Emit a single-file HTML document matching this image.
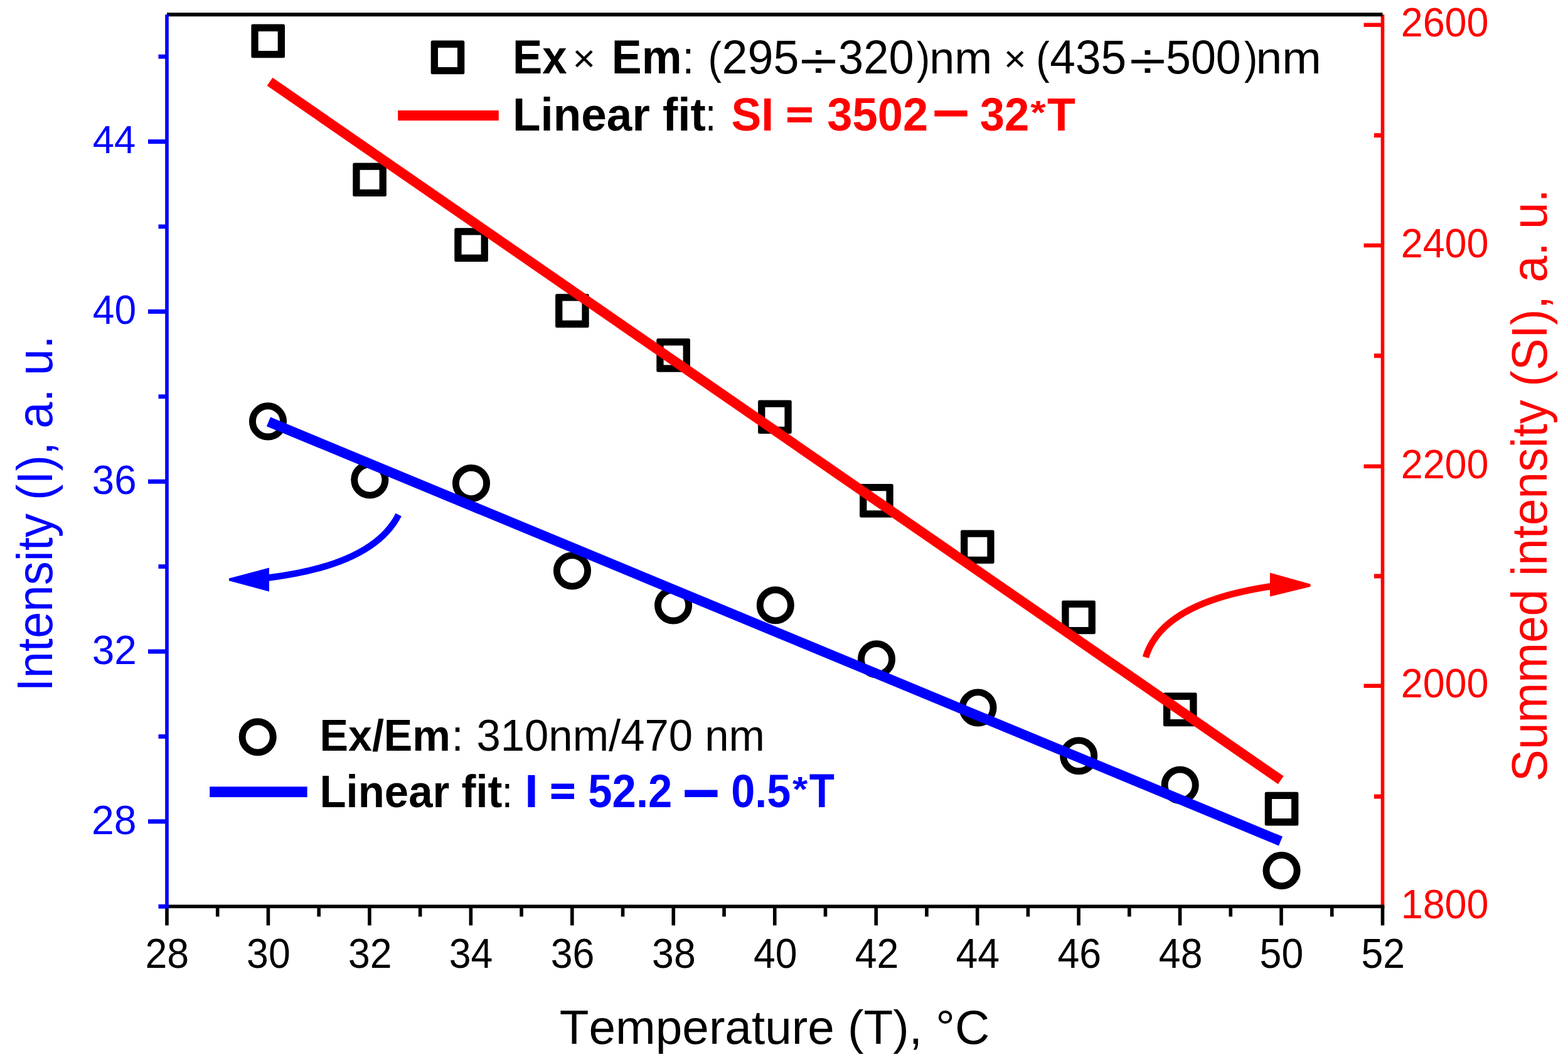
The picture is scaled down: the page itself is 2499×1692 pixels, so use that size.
<!DOCTYPE html>
<html lang="en">
<head>
<meta charset="utf-8">
<title>Intensity vs temperature</title>
<style>
html,body{margin:0;padding:0;background:#fff;}
body{width:2499px;height:1692px;}
svg{display:block;}
svg text{font-family:"Liberation Sans",sans-serif;white-space:pre;font-kerning:none;}
</style>
</head>
<body>
<svg width="2499" height="1692" viewBox="0 0 2499 1692">
<rect width="2499" height="1692" fill="#fff"/>
<g id="markers">
<path d="M402.9 38.6 h48.6 a2.5 2.5 0 0 1 2.5 2.5 v48.6 a2.5 2.5 0 0 1 -2.5 2.5 h-48.6 a2.5 2.5 0 0 1 -2.5 -2.5 v-48.6 a2.5 2.5 0 0 1 2.5 -2.5 z M411.7 49.9 h31 v31 h-31 z" fill="#000" fill-rule="evenodd"/>
<path d="M564.8 259.5 h48.6 a2.5 2.5 0 0 1 2.5 2.5 v48.6 a2.5 2.5 0 0 1 -2.5 2.5 h-48.6 a2.5 2.5 0 0 1 -2.5 -2.5 v-48.6 a2.5 2.5 0 0 1 2.5 -2.5 z M573.6 270.8 h31 v31 h-31 z" fill="#000" fill-rule="evenodd"/>
<path d="M726.8 363.3 h48.6 a2.5 2.5 0 0 1 2.5 2.5 v48.6 a2.5 2.5 0 0 1 -2.5 2.5 h-48.6 a2.5 2.5 0 0 1 -2.5 -2.5 v-48.6 a2.5 2.5 0 0 1 2.5 -2.5 z M735.6 374.6 h31 v31 h-31 z" fill="#000" fill-rule="evenodd"/>
<path d="M887.6 468.3 h48.6 a2.5 2.5 0 0 1 2.5 2.5 v48.6 a2.5 2.5 0 0 1 -2.5 2.5 h-48.6 a2.5 2.5 0 0 1 -2.5 -2.5 v-48.6 a2.5 2.5 0 0 1 2.5 -2.5 z M896.4 479.6 h31 v31 h-31 z" fill="#000" fill-rule="evenodd"/>
<path d="M1048.8 539.2 h48.6 a2.5 2.5 0 0 1 2.5 2.5 v48.6 a2.5 2.5 0 0 1 -2.5 2.5 h-48.6 a2.5 2.5 0 0 1 -2.5 -2.5 v-48.6 a2.5 2.5 0 0 1 2.5 -2.5 z M1057.6 550.5 h31 v31 h-31 z" fill="#000" fill-rule="evenodd"/>
<path d="M1210.6 637.4 h48.6 a2.5 2.5 0 0 1 2.5 2.5 v48.6 a2.5 2.5 0 0 1 -2.5 2.5 h-48.6 a2.5 2.5 0 0 1 -2.5 -2.5 v-48.6 a2.5 2.5 0 0 1 2.5 -2.5 z M1219.4 648.7 h31 v31 h-31 z" fill="#000" fill-rule="evenodd"/>
<path d="M1372.6 771 h48.6 a2.5 2.5 0 0 1 2.5 2.5 v48.6 a2.5 2.5 0 0 1 -2.5 2.5 h-48.6 a2.5 2.5 0 0 1 -2.5 -2.5 v-48.6 a2.5 2.5 0 0 1 2.5 -2.5 z M1381.4 782.3 h31 v31 h-31 z" fill="#000" fill-rule="evenodd"/>
<path d="M1533.5 844.5 h48.6 a2.5 2.5 0 0 1 2.5 2.5 v48.6 a2.5 2.5 0 0 1 -2.5 2.5 h-48.6 a2.5 2.5 0 0 1 -2.5 -2.5 v-48.6 a2.5 2.5 0 0 1 2.5 -2.5 z M1542.3 855.8 h31 v31 h-31 z" fill="#000" fill-rule="evenodd"/>
<path d="M1694.8 956.7 h48.6 a2.5 2.5 0 0 1 2.5 2.5 v48.6 a2.5 2.5 0 0 1 -2.5 2.5 h-48.6 a2.5 2.5 0 0 1 -2.5 -2.5 v-48.6 a2.5 2.5 0 0 1 2.5 -2.5 z M1703.6 968 h31 v31 h-31 z" fill="#000" fill-rule="evenodd"/>
<path d="M1856.5 1103.6 h48.6 a2.5 2.5 0 0 1 2.5 2.5 v48.6 a2.5 2.5 0 0 1 -2.5 2.5 h-48.6 a2.5 2.5 0 0 1 -2.5 -2.5 v-48.6 a2.5 2.5 0 0 1 2.5 -2.5 z M1865.3 1114.9 h31 v31 h-31 z" fill="#000" fill-rule="evenodd"/>
<path d="M2018.3 1261.8 h48.6 a2.5 2.5 0 0 1 2.5 2.5 v48.6 a2.5 2.5 0 0 1 -2.5 2.5 h-48.6 a2.5 2.5 0 0 1 -2.5 -2.5 v-48.6 a2.5 2.5 0 0 1 2.5 -2.5 z M2027.1 1273.1 h31 v31 h-31 z" fill="#000" fill-rule="evenodd"/>
<circle cx="427" cy="671.4" r="24.6" fill="none" stroke="#000" stroke-width="10.9"/>
<circle cx="589.3" cy="764.5" r="24.6" fill="none" stroke="#000" stroke-width="10.9"/>
<circle cx="751" cy="770" r="24.6" fill="none" stroke="#000" stroke-width="10.9"/>
<circle cx="912" cy="909.5" r="24.6" fill="none" stroke="#000" stroke-width="10.9"/>
<circle cx="1073.1" cy="964.4" r="24.6" fill="none" stroke="#000" stroke-width="10.9"/>
<circle cx="1235.8" cy="964.3" r="24.6" fill="none" stroke="#000" stroke-width="10.9"/>
<circle cx="1397" cy="1050.2" r="24.6" fill="none" stroke="#000" stroke-width="10.9"/>
<circle cx="1558.5" cy="1127.5" r="24.6" fill="none" stroke="#000" stroke-width="10.9"/>
<circle cx="1719.2" cy="1204.2" r="24.6" fill="none" stroke="#000" stroke-width="10.9"/>
<circle cx="1880.7" cy="1250.7" r="24.6" fill="none" stroke="#000" stroke-width="10.9"/>
<circle cx="2042.6" cy="1387" r="24.6" fill="none" stroke="#000" stroke-width="10.9"/>
</g>
<g id="fits" fill="none">
<line x1="430" y1="130.1" x2="2041.3" y2="1242.9" stroke="#ff0000" stroke-width="15.6"/>
<line x1="428" y1="671.9" x2="2041" y2="1340.1" stroke="#0000ff" stroke-width="15.8"/>
</g>
<g id="arrows">
<path d="M635.2 820.1 Q595 899.7 428 920.5" fill="none" stroke="#0000ff" stroke-width="10.5"/>
<path d="M429 904.5 L429 942.4 L365 925.2 L365 921.4 Z" fill="#0000ff"/>
<path d="M1825.9 1047.2 Q1852.1 960.1 2025 934.3" fill="none" stroke="#ff0000" stroke-width="10.5"/>
<path d="M2024 912.4 L2024 950.5 L2088.5 934.8 L2088.5 930.6 Z" fill="#ff0000"/>
</g>
<g id="axes">
<rect x="2200.7" y="23.2" width="5.6" height="1423.8" fill="#ff0000"/>
<rect x="2173.5" y="1089.5" width="30" height="6.4" fill="#ff0000"/>
<rect x="2173.5" y="739.8" width="30" height="6.4" fill="#ff0000"/>
<rect x="2173.5" y="387.8" width="30" height="6.4" fill="#ff0000"/>
<rect x="2173.5" y="36.5" width="30" height="6.4" fill="#ff0000"/>
<rect x="2189.9" y="1265.54" width="13.6" height="7" fill="#ff0000"/>
<rect x="2189.9" y="914.42" width="13.6" height="7" fill="#ff0000"/>
<rect x="2189.9" y="563.3" width="13.6" height="7" fill="#ff0000"/>
<rect x="2189.9" y="212.18" width="13.6" height="7" fill="#ff0000"/>
<rect x="266" y="20.2" width="1937.5" height="6" fill="#000"/>
<rect x="266" y="1441.4" width="1940.3" height="5.6" fill="#000"/>
<rect x="263.2" y="1444.2" width="5.6" height="30.2" fill="#000"/>
<rect x="343.93" y="1444.2" width="5.6" height="16.2" fill="#000"/>
<rect x="424.66" y="1444.2" width="5.6" height="30.2" fill="#000"/>
<rect x="505.39" y="1444.2" width="5.6" height="16.2" fill="#000"/>
<rect x="586.12" y="1444.2" width="5.6" height="30.2" fill="#000"/>
<rect x="666.85" y="1444.2" width="5.6" height="16.2" fill="#000"/>
<rect x="747.58" y="1444.2" width="5.6" height="30.2" fill="#000"/>
<rect x="828.3" y="1444.2" width="5.6" height="16.2" fill="#000"/>
<rect x="909.03" y="1444.2" width="5.6" height="30.2" fill="#000"/>
<rect x="989.76" y="1444.2" width="5.6" height="16.2" fill="#000"/>
<rect x="1070.49" y="1444.2" width="5.6" height="30.2" fill="#000"/>
<rect x="1151.22" y="1444.2" width="5.6" height="16.2" fill="#000"/>
<rect x="1231.95" y="1444.2" width="5.6" height="30.2" fill="#000"/>
<rect x="1312.68" y="1444.2" width="5.6" height="16.2" fill="#000"/>
<rect x="1393.41" y="1444.2" width="5.6" height="30.2" fill="#000"/>
<rect x="1474.14" y="1444.2" width="5.6" height="16.2" fill="#000"/>
<rect x="1554.87" y="1444.2" width="5.6" height="30.2" fill="#000"/>
<rect x="1635.6" y="1444.2" width="5.6" height="16.2" fill="#000"/>
<rect x="1716.33" y="1444.2" width="5.6" height="30.2" fill="#000"/>
<rect x="1797.05" y="1444.2" width="5.6" height="16.2" fill="#000"/>
<rect x="1877.78" y="1444.2" width="5.6" height="30.2" fill="#000"/>
<rect x="1958.51" y="1444.2" width="5.6" height="16.2" fill="#000"/>
<rect x="2039.24" y="1444.2" width="5.6" height="30.2" fill="#000"/>
<rect x="2119.97" y="1444.2" width="5.6" height="16.2" fill="#000"/>
<rect x="2200.7" y="1444.2" width="5.6" height="30.2" fill="#000"/>
<rect x="263.2" y="23.2" width="5.6" height="1423.8" fill="#0000ff"/>
<rect x="236" y="1305.3" width="30" height="7" fill="#0000ff"/>
<rect x="236" y="1034.5" width="30" height="7" fill="#0000ff"/>
<rect x="236" y="763.7" width="30" height="7" fill="#0000ff"/>
<rect x="236" y="492.9" width="30" height="7" fill="#0000ff"/>
<rect x="236" y="222.1" width="30" height="7" fill="#0000ff"/>
<rect x="252.5" y="1440.8" width="13.5" height="6.8" fill="#0000ff"/>
<rect x="252.5" y="1170" width="13.5" height="6.8" fill="#0000ff"/>
<rect x="252.5" y="899.2" width="13.5" height="6.8" fill="#0000ff"/>
<rect x="252.5" y="628.4" width="13.5" height="6.8" fill="#0000ff"/>
<rect x="252.5" y="357.6" width="13.5" height="6.8" fill="#0000ff"/>
<rect x="252.5" y="86.8" width="13.5" height="6.8" fill="#0000ff"/>
</g>
<g id="ticklabels">
<text transform="translate(231.42 1542.2) scale(1.0000 1.0500)" font-size="62.6" fill="#000000">28</text>
<text transform="translate(393.12 1542.2) scale(1.0000 1.0500)" font-size="62.6" fill="#000000">30</text>
<text transform="translate(554.96 1542.2) scale(1.0000 1.0500)" font-size="62.6" fill="#000000">32</text>
<text transform="translate(715.72 1542.2) scale(1.0000 1.0500)" font-size="62.6" fill="#000000">34</text>
<text transform="translate(877.65 1542.2) scale(1.0000 1.0500)" font-size="62.6" fill="#000000">36</text>
<text transform="translate(1039.11 1542.2) scale(1.0000 1.0500)" font-size="62.6" fill="#000000">38</text>
<text transform="translate(1200.88 1542.2) scale(1.0000 1.0500)" font-size="62.6" fill="#000000">40</text>
<text transform="translate(1362.73 1542.2) scale(1.0000 1.0500)" font-size="62.6" fill="#000000">42</text>
<text transform="translate(1523.48 1542.2) scale(1.0000 1.0500)" font-size="62.6" fill="#000000">44</text>
<text transform="translate(1685.41 1542.2) scale(1.0000 1.0500)" font-size="62.6" fill="#000000">46</text>
<text transform="translate(1846.87 1542.2) scale(1.0000 1.0500)" font-size="62.6" fill="#000000">48</text>
<text transform="translate(2007.62 1542.2) scale(1.0000 1.0500)" font-size="62.6" fill="#000000">50</text>
<text transform="translate(2169.47 1542.2) scale(1.0000 1.0500)" font-size="62.6" fill="#000000">52</text>
<text transform="translate(145.99 1328.65) scale(1.0367 1.0510)" font-size="62" fill="#0000ff">28</text>
<text transform="translate(146.8 1057.85) scale(1.0316 1.0510)" font-size="62" fill="#0000ff">32</text>
<text transform="translate(146.82 787.05) scale(1.0241 1.0510)" font-size="62" fill="#0000ff">36</text>
<text transform="translate(147.8 516.25) scale(1.0046 1.0510)" font-size="62" fill="#0000ff">40</text>
<text transform="translate(147.71 243.9) scale(0.9936 1.0135)" font-size="62" fill="#0000ff">44</text>
<text transform="translate(2232.66 1462.9) scale(1.0000 1.0350)" font-size="62.9" fill="#ff0000">1800</text>
<text transform="translate(2232.66 1111.4) scale(1.0000 1.0350)" font-size="62.9" fill="#ff0000">2000</text>
<text transform="translate(2232.66 761.7) scale(1.0000 1.0350)" font-size="62.9" fill="#ff0000">2200</text>
<text transform="translate(2232.66 409.7) scale(1.0000 1.0350)" font-size="62.9" fill="#ff0000">2400</text>
<text transform="translate(2232.66 58.4) scale(1.0000 1.0350)" font-size="62.9" fill="#ff0000">2600</text>
</g>
<g id="titles">
<text transform="translate(891.68 1662.6) scale(1.0000 0.9802)" font-size="76.55" fill="#000000">Temperature (T), °C</text>
<text transform="translate(83.4 1101.74) rotate(-90) scale(1 1.0351)" font-size="76.16" fill="#0000ff">Intensity (I), a. u.</text>
<text transform="translate(2464.9 1245.14) rotate(-90) scale(1 1.0322)" font-size="76.52" fill="#ff0000">Summed intensity (SI), a. u.</text>
</g>
<g id="legend-top">
<path d="M689.2 64.6 h48.6 a2.5 2.5 0 0 1 2.5 2.5 v48.6 a2.5 2.5 0 0 1 -2.5 2.5 h-48.6 a2.5 2.5 0 0 1 -2.5 -2.5 v-48.6 a2.5 2.5 0 0 1 2.5 -2.5 z M698 75.9 h31 v31 h-31 z" fill="#000" fill-rule="evenodd"/>
<g class="l1"><text transform="translate(817.12 117) scale(1.0000 1.0819)" font-size="70.85" font-weight="700" fill="#000000">Ex</text><text transform="translate(912.51 114.15) scale(1.0112 0.9750)" font-size="62" fill="#000000">× </text><text transform="translate(974.75 117) scale(1.0000 1.0676)" font-size="71.8" font-weight="700" fill="#000000">Em</text><text transform="translate(1087.57 117) scale(0.9357 1.0400)" font-size="72" fill="#000000">: </text><text transform="translate(1128.38 117) scale(0.8880 1.0000)" font-size="72.5" fill="#000000">(</text><text transform="translate(1150.52 117) scale(1.0160 1.0400)" font-size="72.5" fill="#000000">295</text><text transform="translate(1274.45 125.48) scale(1.4379 1.0380)" font-size="76" fill="#000000">÷</text><text transform="translate(1336.09 117) scale(0.9969 1.0400)" font-size="72.5" fill="#000000">320</text><text transform="translate(1461.02 117) scale(0.8775 1.0000)" font-size="72.5" fill="#000000">)</text><text transform="translate(1481.14 117) scale(0.9924 1.0000)" font-size="72.5" fill="#000000">nm </text><text transform="translate(1599.69 113.93) scale(0.9931 0.9424)" font-size="62" fill="#000000">× </text><text transform="translate(1651.28 117) scale(0.8880 1.0000)" font-size="72.5" fill="#000000">(</text><text transform="translate(1673.25 117) scale(1.0089 1.0400)" font-size="72.5" fill="#000000">435</text><text transform="translate(1799.74 125.48) scale(1.3999 1.0380)" font-size="76" fill="#000000">÷</text><text transform="translate(1857.92 117) scale(0.9915 1.0400)" font-size="72.5" fill="#000000">500</text><text transform="translate(1982.92 117) scale(0.8828 1.0000)" font-size="72.5" fill="#000000">)</text><text transform="translate(2001.53 117) scale(1.0364 1.0000)" font-size="72.5" fill="#000000">nm</text></g>
<rect x="634.2" y="175.9" width="160.6" height="16.2" fill="#ff0000"/>
<g class="l2"><text transform="translate(816.98 208.1) scale(1.0000 1.0169)" font-size="72.93" font-weight="700" fill="#000000">Linear fit</text><text transform="translate(1123.96 208.1) scale(0.8626 1.0400)" font-size="72" fill="#000000">: </text><text transform="translate(1165.45 208.1) scale(1.0000 1.0229)" font-size="71.62" font-weight="700" fill="#ff0000">SI </text><text transform="translate(1253.13 202.17) scale(1.0028 0.8057)" font-size="72" font-weight="700" fill="#ff0000" stroke="#ff0000" stroke-width="2.6">= </text><text transform="translate(1318.37 208.1) scale(1.0044 1.0275)" font-size="72" font-weight="700" fill="#ff0000">3502 </text><text transform="translate(1484.86 210.42) scale(1.4500 1.2121)" font-size="72" font-weight="700" fill="#ff0000">− </text><text transform="translate(1561.81 208.1) scale(0.9812 1.0275)" font-size="72" font-weight="700" fill="#ff0000">32</text><text transform="translate(1642.24 196.87) scale(0.8730 0.7084)" font-size="72" font-weight="700" fill="#ff0000">*</text><text transform="translate(1668.96 208.1) scale(1.0217 1.0323)" font-size="72" font-weight="700" fill="#ff0000">T</text></g>
</g>
<g id="legend-bottom">
<circle cx="410.7" cy="1174.3" r="24.6" fill="none" stroke="#000" stroke-width="10.9"/>
<g class="l3"><text transform="translate(509.5 1196) scale(1.0000 1.0341)" font-size="68.18" font-weight="700" fill="#000000">Ex/Em</text><text transform="translate(719.67 1196) scale(0.9907 1.0400)" font-size="68" fill="#000000">: </text><text transform="translate(759.42 1196) scale(1.0000 1.0235)" font-size="68.88" fill="#000000">310nm/470 nm</text></g>
<rect x="334.2" y="1253.3" width="155.4" height="16.8" fill="#0000ff"/>
<g class="l4"><text transform="translate(509.45 1286.1) scale(1.0000 1.0426)" font-size="68.94" font-weight="700" fill="#000000">Linear fit</text><text transform="translate(799.66 1286.1) scale(0.9133 1.0400)" font-size="68" fill="#000000">: </text><text transform="translate(836.19 1286.1) scale(1.1352 1.1037)" font-size="68" font-weight="700" fill="#0000ff">I </text><text transform="translate(877.24 1279.98) scale(0.9882 0.8648)" font-size="68" font-weight="700" fill="#0000ff" stroke="#0000ff" stroke-width="2.6">= </text><text transform="translate(937.33 1286.1) scale(1.0125 1.0964)" font-size="68" font-weight="700" fill="#0000ff">52.2 </text><text transform="translate(1086.76 1299.01) scale(1.5353 1.5374)" font-size="68" font-weight="700" fill="#0000ff">− </text><text transform="translate(1165.17 1286.1) scale(1.0052 1.0964)" font-size="68" font-weight="700" fill="#0000ff">0.5</text><text transform="translate(1263.04 1276.25) scale(0.9167 0.8054)" font-size="68" font-weight="700" fill="#0000ff">*</text><text transform="translate(1289.84 1286.1) scale(0.9671 1.1037)" font-size="68" font-weight="700" fill="#0000ff">T</text></g>
</g>
</svg>
</body>
</html>
